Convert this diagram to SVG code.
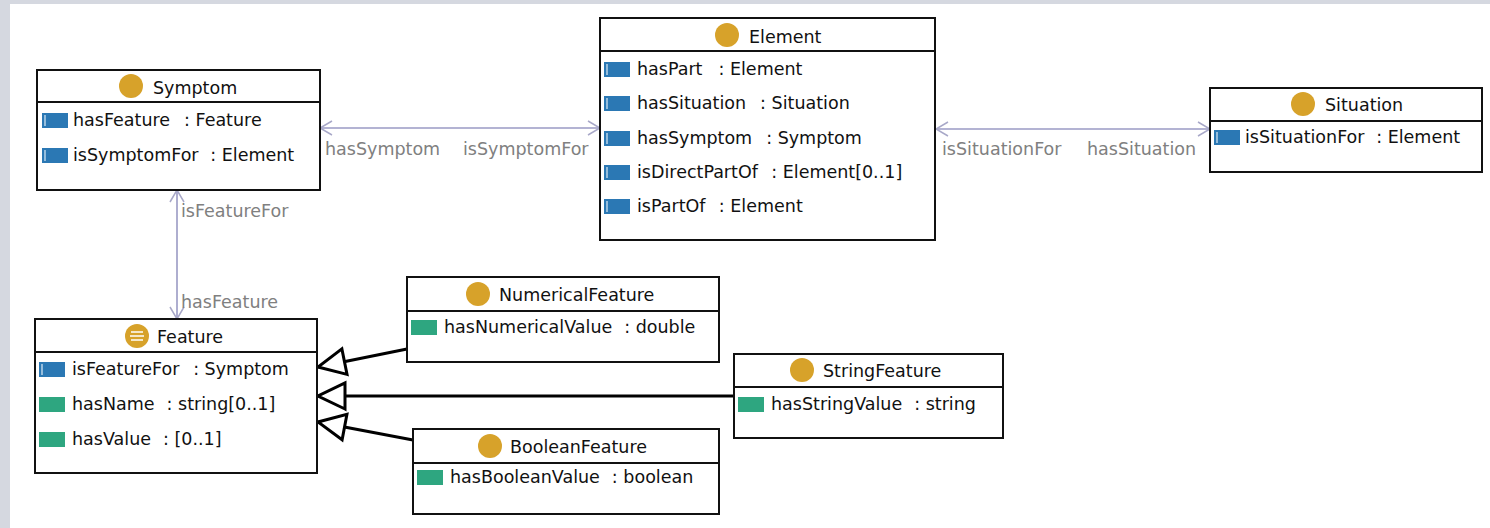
<svg xmlns="http://www.w3.org/2000/svg" xmlns:xlink="http://www.w3.org/1999/xlink" width="1490" height="528" viewBox="0 0 1490 528">
<style>
.box{fill:#ffffff;stroke:#111;stroke-width:2}
.div{stroke:#111;stroke-width:2}
.t{font-family:"DejaVu Sans",Verdana,sans-serif;font-size:17.5px;fill:#111}
.lbl{font-family:"DejaVu Sans",Verdana,sans-serif;font-size:17.5px;fill:#808080}
.cls{fill:#d7a22a}
.assoc{stroke:#9a9ac4;stroke-width:1.6;fill:none;marker-start:url(#openS);marker-end:url(#openE)}
.gen{stroke:#000;stroke-width:3;fill:none;marker-end:url(#tri)}
</style>
<defs>
<marker id="openE" viewBox="0 0 14 16" refX="13" refY="8" markerWidth="14" markerHeight="16" markerUnits="userSpaceOnUse" orient="auto">
<path d="M1,1 L13,8 L1,15" fill="none" stroke="#a8a8c8" stroke-width="1.5"/>
</marker>
<marker id="openS" viewBox="0 0 14 16" refX="1" refY="8" markerWidth="14" markerHeight="16" markerUnits="userSpaceOnUse" orient="auto">
<path d="M13,1 L1,8 L13,15" fill="none" stroke="#a8a8c8" stroke-width="1.5"/>
</marker>
<marker id="tri" viewBox="0 0 32 32" refX="30" refY="16" markerWidth="32" markerHeight="32" markerUnits="userSpaceOnUse" orient="auto">
<path d="M3,3 L30,16 L3,29 Z" fill="#fff" stroke="#000" stroke-width="3"/>
</marker>
<g id="obj"><rect x="0" y="0" width="26" height="15" fill="#2b78b4"/><line x1="3" y1="2" x2="3" y2="13" stroke="#cfe4f3" stroke-width="1.3"/></g>
<g id="dat"><rect x="0" y="0" width="26" height="15" fill="#2ea680"/></g>
</defs>
<rect x="0" y="0" width="1490" height="528" fill="#ffffff"/>
<rect x="0" y="0" width="1490" height="4" fill="#d5d8e0"/>
<rect x="0" y="0" width="10" height="528" fill="#d5d8e0"/>

<g id="connectors">
<line class="assoc" x1="320" y1="128" x2="600" y2="128"/>
<text class="lbl" x="325" y="155">hasSymptom</text>
<text class="lbl" x="463" y="155">isSymptomFor</text>
<line class="assoc" x1="936" y1="129" x2="1210" y2="129"/>
<text class="lbl" x="942" y="155">isSituationFor</text>
<text class="lbl" x="1087" y="155">hasSituation</text>
<line class="assoc" x1="177" y1="190" x2="177" y2="319"/>
<text class="lbl" x="181" y="217">isFeatureFor</text>
<text class="lbl" x="181" y="308">hasFeature</text>
<line class="gen" x1="407" y1="349" x2="318" y2="367"/>
<line class="gen" x1="734" y1="396" x2="318" y2="396"/>
<line class="gen" x1="413" y1="440" x2="318" y2="422"/>
</g>

<g id="Symptom">
<rect class="box" x="37" y="70" width="283" height="120"/>
<line class="div" x1="37" y1="102" x2="320" y2="102"/>
<circle class="cls" cx="131" cy="86" r="12"/>
<text class="t" x="153" y="94">Symptom</text>
<use xlink:href="#obj" x="42" y="113"/>
<text class="t" x="73" y="126">hasFeature<tspan dx="14">: Feature</tspan></text>
<use xlink:href="#obj" x="42" y="148"/>
<text class="t" x="73" y="161">isSymptomFor<tspan dx="12">: Element</tspan></text>
</g>

<g id="Element">
<rect class="box" x="600" y="18" width="335" height="222"/>
<line class="div" x1="600" y1="51" x2="935" y2="51"/>
<circle class="cls" cx="727" cy="35" r="12"/>
<text class="t" x="749" y="43">Element</text>
<use xlink:href="#obj" x="604" y="62"/>
<text class="t" x="637" y="75">hasPart<tspan dx="16">: Element</tspan></text>
<use xlink:href="#obj" x="604" y="96"/>
<text class="t" x="637" y="109">hasSituation<tspan dx="14">: Situation</tspan></text>
<use xlink:href="#obj" x="604" y="131"/>
<text class="t" x="637" y="144">hasSymptom<tspan dx="14">: Symptom</tspan></text>
<use xlink:href="#obj" x="604" y="165"/>
<text class="t" x="637" y="178">isDirectPartOf<tspan dx="14">: Element[0..1]</tspan></text>
<use xlink:href="#obj" x="604" y="199"/>
<text class="t" x="637" y="212">isPartOf<tspan dx="14">: Element</tspan></text>
</g>

<g id="Situation">
<rect class="box" x="1210" y="88" width="272" height="84"/>
<line class="div" x1="1210" y1="121" x2="1482" y2="121"/>
<circle class="cls" cx="1303" cy="104" r="12"/>
<text class="t" x="1325" y="111">Situation</text>
<use xlink:href="#obj" x="1214" y="130"/>
<text class="t" x="1245" y="143">isSituationFor<tspan dx="12">: Element</tspan></text>
</g>

<g id="Feature">
<rect class="box" x="35" y="319" width="282" height="154"/>
<line class="div" x1="35" y1="352" x2="317" y2="352"/>
<circle class="cls" cx="137" cy="336" r="12"/>
<line x1="131" y1="332" x2="143" y2="332" stroke="#fff" stroke-width="1.5"/>
<line x1="130" y1="336" x2="144" y2="336" stroke="#fff" stroke-width="1.5"/>
<line x1="131" y1="340" x2="143" y2="340" stroke="#fff" stroke-width="1.5"/>
<text class="t" x="157" y="343">Feature</text>
<use xlink:href="#obj" x="39" y="362"/>
<text class="t" x="72" y="375">isFeatureFor<tspan dx="14">: Symptom</tspan></text>
<use xlink:href="#dat" x="39" y="397"/>
<text class="t" x="72" y="410">hasName<tspan dx="12">: string[0..1]</tspan></text>
<use xlink:href="#dat" x="39" y="432"/>
<text class="t" x="72" y="445">hasValue<tspan dx="12">: [0..1]</tspan></text>
</g>

<g id="NumericalFeature">
<rect class="box" x="407" y="277" width="312" height="85"/>
<line class="div" x1="407" y1="311" x2="719" y2="311"/>
<circle class="cls" cx="478" cy="294" r="12"/>
<text class="t" x="499" y="301">NumericalFeature</text>
<use xlink:href="#dat" x="411" y="320"/>
<text class="t" x="444" y="333">hasNumericalValue<tspan dx="12">: double</tspan></text>
</g>

<g id="StringFeature">
<rect class="box" x="734" y="354" width="269" height="84"/>
<line class="div" x1="734" y1="387" x2="1003" y2="387"/>
<circle class="cls" cx="802" cy="370" r="12"/>
<text class="t" x="823" y="377">StringFeature</text>
<use xlink:href="#dat" x="738" y="397"/>
<text class="t" x="771" y="410">hasStringValue<tspan dx="12">: string</tspan></text>
</g>

<g id="BooleanFeature">
<rect class="box" x="413" y="429" width="306" height="85"/>
<line class="div" x1="413" y1="463" x2="719" y2="463"/>
<circle class="cls" cx="490" cy="446" r="12"/>
<text class="t" x="510" y="453">BooleanFeature</text>
<use xlink:href="#dat" x="417" y="470"/>
<text class="t" x="450" y="483">hasBooleanValue<tspan dx="12">: boolean</tspan></text>
</g>
</svg>
